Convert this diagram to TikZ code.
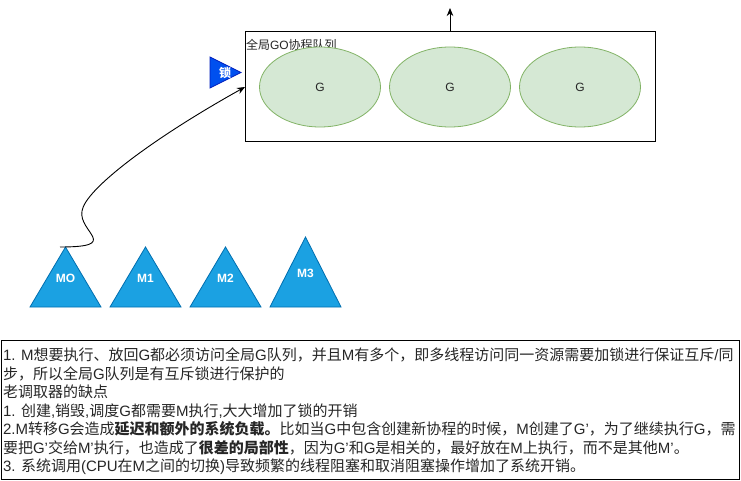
\documentclass[tikz,border=0pt]{standalone}
\usepackage{fontspec}
\setmainfont{Liberation Sans}
\newfontfamily\cjkfont{Noto Sans CJK SC}
\usetikzlibrary{arrows.meta,shapes.geometric}
\makeatletter
\chardef\cjkcls=7
\def\setcjkrange#1#2{\count@=#1\relax
  \loop
    \XeTeXcharclass\count@=\cjkcls
    \ifnum\count@<#2\relax
    \advance\count@\@ne
  \repeat}
\setcjkrange{"4E00}{"9FFF}
\setcjkrange{"3000}{"303F}
\setcjkrange{"FF00}{"FFEF}
\count@=32
\loop
  \XeTeXcharclass\count@=0
  \ifnum\count@<126
  \advance\count@\@ne
\repeat
\XeTeXcharclass"2018=0 \XeTeXcharclass"2019=0
\XeTeXcharclass"201C=0 \XeTeXcharclass"201D=0
\makeatother
\XeTeXinterchartoks 0 \cjkcls = {\cjkfont}
\XeTeXinterchartoks 4095 \cjkcls = {\cjkfont}
\XeTeXinterchartoks \cjkcls 0 = {\rmfamily}
\XeTeXinterchartoks \cjkcls 4095 = {\rmfamily}
\XeTeXinterchartokenstate=1
\definecolor{gfill}{HTML}{D5E8D4}
\definecolor{gstroke}{HTML}{82B366}
\definecolor{mfill}{HTML}{1BA1E2}
\definecolor{mstroke}{HTML}{006EAF}
\definecolor{lfill}{HTML}{0050EF}
\definecolor{lstroke}{HTML}{001DBC}
\definecolor{txt}{HTML}{262626}
\begin{document}
\begin{tikzpicture}[x=1pt,y=-1pt,
  every node/.style={inner sep=0pt,outer sep=0pt},
  gnode/.style={ellipse,draw=gstroke,fill=gfill,line width=0.8pt,minimum width=121pt,minimum height=80pt,font=\fontsize{12}{14}\selectfont,text=txt},
  mtri/.style={fill=mfill,draw=mstroke,line width=0.8pt},
  mlab/.style={font=\fontsize{12}{14}\selectfont\bfseries,text=white},
  locktri/.style={fill=lfill,draw=lstroke,line width=0.8pt},
  boxstyle/.style={draw=black,line width=1pt},
  bodytxt/.style={anchor=base west,font=\fontsize{15}{18}\selectfont,text=txt},
  conn/.style={draw=black,line width=0.9pt,-{Stealth[length=8pt,width=6.5pt,inset=2.5pt]}}
]
\useasboundingbox (0,0) rectangle (741,481);
% global queue
\node[boxstyle,minimum width=410pt,minimum height=110pt] (queue) at (450,87) {};
\node[anchor=west,font=\fontsize{12}{14}\selectfont,text=txt] (qlabel) at (246,44.5) {全局GO协程队列};
\node[gnode] (g1) at (320,87) {G};
\node[gnode] (g2) at (450,87) {G};
\node[gnode] (g3) at (580,87) {G};
\coordinate (up) at (450,8);
\draw[conn] (queue.north) -- (up);
% lock
\path[locktri] (210,57) -- (210,88) -- (241,72.5) -- cycle;
\node[font=\fontsize{12}{14}\selectfont\bfseries,text=white] (lock) at (225,72.5) {锁};
% M triangles
\path[mtri] (30,307) -- (101,307) -- (65.5,247) -- cycle;
\path[mtri] (110,307) -- (181,307) -- (145.5,247) -- cycle;
\path[mtri] (190,307) -- (261,307) -- (225.5,247) -- cycle;
\path[mtri] (270,307) -- (341,307) -- (305.5,237) -- cycle;
\node[mlab] (m0) at (65.5,278) {MO};
\node[mlab] (m1) at (145.5,278) {M1};
\node[mlab] (m2) at (225.5,278) {M2};
\node[mlab] (m3) at (305.5,273) {M3};
\coordinate (m0start) at (60,247);
\draw[conn] (m0start) .. controls (122,247) and (78,232) .. (82,211)
  .. controls (85,190) and (150,140) .. (queue.west);
% notes
\node[boxstyle,anchor=north west,minimum width=738pt,minimum height=139pt] (notes) at (1,340) {};
\node[bodytxt] (t1) at (3,360.5) {1. M想要执行、放回G都必须访问全局G队列，并且M有多个，即多线程访问同一资源需要加锁进行保证互斥/同};
\node[bodytxt] (t2) at (3,379) {步，所以全局G队列是有互斥锁进行保护的};
\node[bodytxt] (t3) at (3,397.5) {老调取器的缺点};
\node[bodytxt] (t4) at (3,416) {1. 创建,销毁,调度G都需要M执行,大大增加了锁的开销};
\node[bodytxt] (t5) at (3,434.5) {2.M转移G会造成\textbf{延迟和额外的系统负载。}比如当G中包含创建新协程的时候，M创建了G’，为了继续执行G，需};
\node[bodytxt] (t6) at (3,453) {要把G’交给M’执行，也造成了\textbf{很差的局部性}，因为G’和G是相关的，最好放在M上执行，而不是其他M’。};
\node[bodytxt] (t7) at (3,471.5) {3. 系统调用(CPU在M之间的切换)导致频繁的线程阻塞和取消阻塞操作增加了系统开销。};
\end{tikzpicture}
\end{document}
